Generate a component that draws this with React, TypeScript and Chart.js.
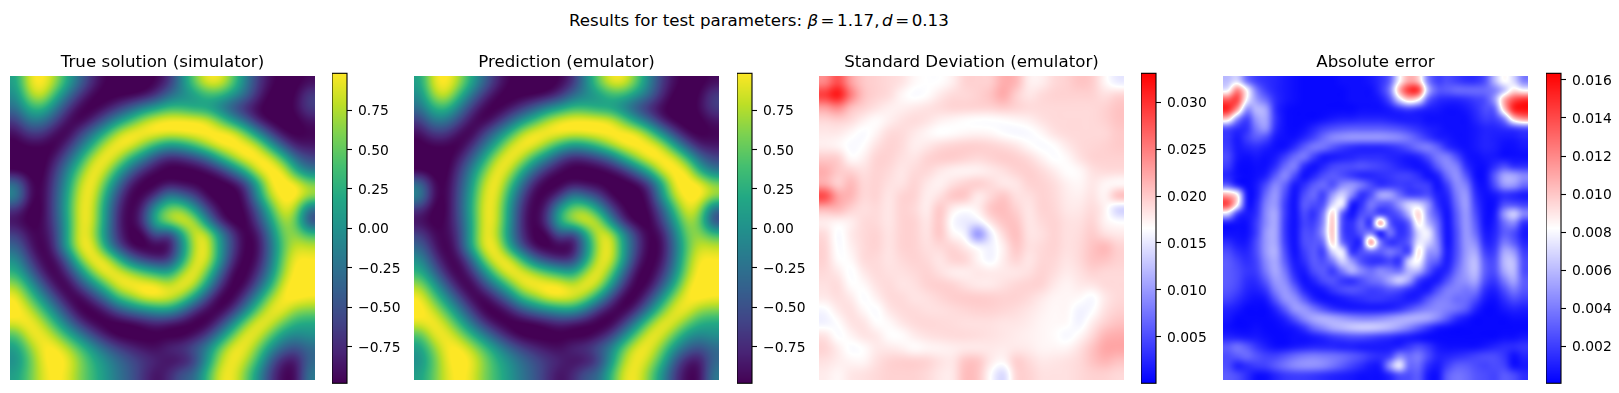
import React, { useEffect, useRef } from "react";
import { Chart, registerables } from "chart.js";

Chart.register(...registerables);

const SUPTITLE_LEAD = "Results for test parameters: ";
const PANEL_TITLES = ["True solution (simulator)", "Prediction (emulator)", "Standard Deviation (emulator)", "Absolute error"];
const VIRIDIS_TICKS = [-0.75, -0.5, -0.25, 0, 0.25, 0.5, 0.75];
const SD_TICKS = [0.005, 0.01, 0.015, 0.02, 0.025, 0.03];
const ERR_TICKS = [0.002, 0.004, 0.006, 0.008, 0.01, 0.012, 0.014, 0.016];

// Field, rows from the top
const TRUE_SOLUTION: number[][] = [
  [.1,.85,.97,.7,.2,-.3,-.7,-.9,-.95,-.97,-.97,-.9,-.7,-.1,.5,.9,.9,.5,-.1,-.6,-.85,-.95,-.95,-.85],
  [-.05,.65,.85,.35,-.2,-.65,-.9,-.97,-.95,-.95,-.9,-.7,-.3,-.1,.05,.3,.3,.05,-.25,-.7,-.95,-.97,-.9,-.55],
  [-.25,.25,.35,-.1,-.6,-.9,-.97,-.85,-.65,-.4,-.1,.1,.3,.25,.1,.05,-.2,-.5,-.75,-.9,-.97,-.97,-.85,-.55],
  [-.6,-.15,-.15,-.5,-.85,-.97,-.75,-.4,0,.35,.7,.9,.97,.97,.95,.87,.5,.05,-.35,-.8,-.95,-.97,-.95,-.8],
  [-.85,-.6,-.6,-.85,-.97,-.6,-.2,.25,.75,.95,.97,.97,.92,.94,.97,.97,.97,.93,.55,-.05,-.6,-.9,-.95,-.9],
  [-.95,-.9,-.9,-.97,-.7,-.25,.25,.8,.97,.9,.6,.25,0,.1,.35,.7,.93,.97,.97,.8,.15,-.45,-.8,-.8],
  [-.97,-.97,-.97,-.8,-.4,.15,.75,.97,.75,.25,-.15,-.6,-.8,-.75,-.6,-.35,.2,.65,.95,.97,.9,.35,-.3,-.55],
  [-.95,-.97,-.97,-.65,-.1,.5,.95,.8,.2,-.35,-.75,-.9,-.97,-.97,-.97,-.9,-.75,-.3,.25,.87,.97,.93,.2,-.2],
  [-.2,-.85,-.95,-.55,.05,.75,.97,.45,-.25,-.8,-.97,-.97,-.85,-.9,-.92,-.97,-.97,-.95,-.65,.15,.93,.97,.95,.6],
  [0,-.85,-.95,-.5,.15,.85,.9,.2,-.55,-.95,-.9,-.65,-.05,-.3,-.55,-.9,-.97,-.97,-.85,0,.75,.97,.97,.7],
  [-.65,-.95,-.95,-.5,.2,.9,.85,.05,-.7,-.97,-.7,.2,.6,.65,.1,-.55,-.9,-.97,-.9,-.45,.35,.9,.7,-.35],
  [-.85,-.95,-.9,-.55,.15,.9,.85,.05,-.75,-.97,-.6,.35,.75,.92,.8,-.05,-.75,-.97,-.97,-.6,.05,.7,.5,-.6],
  [-.55,-.85,-.9,-.65,.15,.93,.75,-.05,-.7,-.95,-.97,-.35,-.8,.05,.85,.85,.05,-.6,-.95,-.85,-.2,.55,.6,.35],
  [-.3,-.75,-.97,-.7,.2,.9,.93,.15,-.55,-.9,-.97,-.97,-.95,-.15,.75,.95,.1,-.55,-.95,-.9,-.3,.45,.8,.75],
  [0,-.55,-.9,-.9,-.4,.55,.97,.9,.35,-.3,-.6,-.75,-.7,.05,.85,.9,.1,-.7,-.97,-.85,-.25,.55,.93,.9],
  [.25,-.25,-.75,-.97,-.7,-.1,.6,.97,.9,.7,.45,.25,.1,.65,.97,.55,-.3,-.9,-.97,-.7,-.1,.65,.97,.97],
  [.65,.15,-.4,-.85,-.97,-.55,-.1,.45,.9,.97,.97,.95,.75,.97,.8,.1,-.65,-.97,-.9,-.45,.2,.85,.98,.97],
  [.92,.5,0,-.5,-.9,-.95,-.65,-.25,.35,.6,.9,.95,.9,.65,.1,-.55,-.95,-.97,-.6,0,.65,.93,.97,.9],
  [.97,.8,.4,-.1,-.6,-.95,-.97,-.8,-.5,-.25,-.1,.05,.1,-.25,-.7,-.9,-.97,-.7,-.15,.5,.9,.9,.6,.55],
  [.85,.95,.75,.3,-.2,-.65,-.9,-.97,-.97,-.95,-.85,-.75,-.85,-.9,-.97,-.97,-.65,-.1,.55,.93,.85,.5,.2,.15],
  [.35,.85,.92,.7,.3,-.1,-.5,-.8,-.95,-.97,-.97,-.95,-.97,-.97,-.85,-.6,-.1,.5,.92,.85,.45,0,-.1,0],
  [.05,.55,.9,.95,.75,.4,.05,-.3,-.55,-.7,-.8,-.85,-.65,-.6,-.4,-.1,.5,.9,.9,.55,0,-.35,-.5,-.3],
  [-.05,.4,.85,.98,.9,.6,.25,0,-.25,-.45,-.6,-.7,-.85,-.85,-.65,0,.7,.93,.75,.3,-.4,-.8,-.85,-.3],
  [.1,.45,.8,.95,.85,.55,.3,.05,-.2,-.4,-.65,-.85,-.7,-.4,-.3,.3,.85,.9,.55,0,-.6,-.9,-.9,-.15],
];
const PREDICTION: number[][] = TRUE_SOLUTION;

// In units of 1e-4
const STD_DEV: number[][] = [
  [240,285,225,200,195,190,185,170,165,165,175,195,195,195,220,215,175,175,190,195,205,200,170,150],
  [300,330,255,205,195,190,170,160,165,180,190,190,195,205,225,195,180,190,195,195,195,195,185,195],
  [225,245,205,195,185,175,175,180,185,190,195,195,195,195,200,195,190,190,190,190,190,190,195,205],
  [190,195,190,175,165,175,185,190,185,175,170,165,162,162,165,170,175,185,190,190,190,190,195,205],
  [180,180,170,160,172,190,190,180,170,162,165,170,172,170,162,158,160,170,185,190,190,190,190,200],
  [175,170,160,165,185,195,190,175,180,190,195,198,198,195,190,182,168,160,165,180,190,192,195,200],
  [200,200,165,175,195,195,185,182,195,200,200,195,190,195,200,198,190,175,162,168,185,195,195,195],
  [220,200,195,185,195,190,180,190,192,180,172,170,172,178,185,195,198,190,178,165,168,185,190,190],
  [215,190,215,190,195,185,182,195,180,172,185,195,200,190,178,180,195,195,188,175,170,182,170,165],
  [295,225,215,190,195,180,195,195,175,185,205,205,175,190,205,185,185,195,190,178,175,185,170,215],
  [210,215,195,185,190,180,195,190,175,205,175,165,175,205,210,195,180,195,192,180,180,190,175,130],
  [175,170,175,190,190,180,195,195,180,205,160,150,155,185,205,205,180,190,195,185,185,195,172,165],
  [190,158,180,190,195,182,195,195,182,205,170,160,80,150,190,210,182,185,195,185,188,200,185,180],
  [195,160,175,190,195,182,195,195,185,190,195,180,165,155,175,205,185,190,195,185,190,205,215,195],
  [195,165,168,190,190,182,190,195,190,180,195,195,172,155,178,195,180,192,192,182,190,205,205,195],
  [190,180,160,180,190,185,185,190,195,185,175,175,182,180,180,180,185,195,188,178,185,195,190,190],
  [185,190,165,168,185,190,182,185,195,198,195,185,178,178,185,192,195,195,180,172,180,182,190,190],
  [180,188,180,160,175,190,190,182,185,192,198,200,200,198,195,195,190,180,172,172,170,158,180,190],
  [160,180,188,170,160,182,190,190,185,185,188,192,195,195,192,188,182,175,170,172,155,162,185,195],
  [155,165,185,185,165,168,182,190,192,190,188,185,185,185,182,182,178,172,170,170,155,178,195,205],
  [185,160,172,185,182,165,165,178,185,188,190,190,188,185,182,178,175,172,168,158,170,190,215,220],
  [195,178,160,165,180,180,175,165,170,172,175,178,178,180,178,180,178,172,172,172,185,205,225,225],
  [185,178,172,170,185,195,198,198,195,185,180,205,205,180,170,200,190,180,182,185,190,205,215,205],
  [178,170,182,185,190,195,195,195,190,180,178,210,205,165,135,195,195,185,185,185,190,195,195,190],
];

// In units of 1e-4
const ABS_ERROR: number[][] = [
  [60,70,35,20,15,12,8,5,3,3,3,3,5,5,5,8,15,30,80,110,100,40,20,25,20,15,15,25,60,85,70,40],
  [75,125,85,40,20,12,8,5,3,3,3,3,3,5,5,5,15,40,110,150,150,60,30,30,35,35,35,35,40,60,90,80],
  [135,145,80,50,35,15,8,5,3,3,3,3,3,5,5,5,8,25,70,100,85,30,15,12,12,15,20,25,50,110,140,150],
  [155,115,45,60,55,15,5,3,3,3,3,3,3,3,5,5,5,8,15,20,15,10,8,5,5,8,15,25,30,100,155,160],
  [100,45,20,50,55,18,5,3,3,3,5,8,10,10,12,12,12,10,8,8,8,5,5,5,5,5,12,20,20,40,100,120],
  [25,15,15,40,50,15,5,3,5,12,20,25,28,30,30,30,30,28,25,20,15,10,8,5,5,5,8,12,12,15,20,25],
  [18,8,20,30,25,8,5,5,12,22,35,45,48,50,50,50,50,48,45,38,28,18,10,8,5,5,8,12,10,8,8,12],
  [20,8,12,15,10,5,5,15,30,40,38,28,20,15,12,12,12,15,20,28,38,42,32,15,8,5,8,12,10,5,5,8],
  [25,8,5,8,5,8,20,35,40,22,8,8,10,12,15,15,15,12,10,8,12,25,40,42,25,8,5,8,8,5,5,5],
  [20,5,3,5,5,15,35,42,15,5,12,22,25,25,28,25,22,18,12,8,5,10,30,45,42,15,5,5,15,25,15,15],
  [12,5,3,5,10,30,45,25,5,12,25,30,25,18,12,12,15,18,22,22,15,5,10,35,48,28,5,5,30,55,55,45],
  [30,10,3,8,25,45,32,8,15,30,35,25,45,50,40,25,15,18,20,18,22,20,5,20,45,42,10,5,25,50,50,35],
  [110,90,8,8,35,50,25,5,25,35,20,50,70,45,15,25,55,55,35,20,20,25,10,12,40,50,15,5,8,15,12,8],
  [145,90,8,12,42,50,20,5,30,25,25,70,80,8,15,40,30,30,50,70,70,50,15,8,35,52,20,5,5,25,25,20],
  [70,20,8,15,45,55,20,5,25,15,40,100,30,5,25,30,20,20,30,60,100,50,25,5,30,50,25,5,8,50,70,45],
  [8,5,5,20,45,55,18,5,22,20,45,105,25,15,35,15,125,30,15,30,90,60,35,5,28,50,30,5,10,35,45,15],
  [5,5,5,20,50,55,18,5,25,25,50,105,25,15,30,40,5,40,15,25,70,80,40,5,25,50,35,8,12,30,25,8],
  [15,8,8,25,50,55,20,5,25,28,35,100,35,15,15,125,40,15,20,30,75,70,45,5,25,50,45,12,15,40,30,12],
  [25,15,12,25,50,58,25,5,20,30,20,70,80,15,25,35,30,40,30,20,95,50,45,8,25,50,55,20,20,55,50,20],
  [30,22,15,22,45,55,30,8,15,30,25,40,70,50,25,15,15,22,15,70,85,40,30,8,28,52,62,28,25,60,62,25],
  [30,25,18,20,40,55,38,12,8,25,30,18,40,60,45,35,45,40,35,60,60,30,10,12,35,52,62,30,25,55,62,25],
  [30,25,15,15,30,50,45,20,5,12,25,28,18,15,25,35,40,55,70,55,20,8,8,25,42,48,55,25,18,40,55,30],
  [28,22,12,10,18,42,50,35,12,5,8,18,25,28,25,20,22,28,25,15,8,8,25,40,42,38,40,15,10,25,40,28],
  [22,15,8,5,8,28,48,48,30,12,5,5,8,12,15,18,18,15,12,8,12,28,40,42,35,35,25,8,5,15,25,20],
  [12,8,3,3,3,12,30,50,50,38,25,15,10,8,8,8,8,10,15,25,35,42,45,42,38,30,12,3,3,8,12,10],
  [8,3,3,3,3,5,12,28,45,55,58,55,50,45,42,42,45,50,55,58,58,55,45,30,15,8,3,3,3,3,5,5],
  [5,3,3,5,3,3,5,8,18,35,45,55,60,65,68,68,65,60,52,42,30,18,8,5,3,3,3,3,3,3,3,3],
  [12,10,8,8,5,3,3,5,5,8,12,18,22,25,25,22,18,15,10,8,5,3,3,3,3,3,3,3,3,5,5,8],
  [30,38,30,18,10,5,5,8,10,12,12,12,10,10,8,8,8,8,10,18,25,18,8,5,5,5,5,8,12,15,15,18],
  [25,30,35,28,22,22,28,35,40,42,40,38,35,30,25,18,15,20,45,35,40,25,12,12,15,18,22,25,25,18,5,12],
  [25,10,15,20,22,30,38,45,48,48,45,38,30,22,15,8,10,50,80,35,35,15,8,20,30,30,25,22,25,22,5,8],
  [30,25,15,5,5,12,18,20,20,18,15,12,10,8,5,5,5,12,25,25,30,8,5,30,38,35,28,25,22,30,25,15],
];

const VIRIDIS: number[][] = [
  [68,1,84],[72,36,117],[65,68,135],[53,95,141],[42,120,142],[33,145,140],[34,168,132],[68,191,112],[122,209,81],[189,223,38],[253,231,37],
];
const BWR: number[][] = [[0,0,255],[255,255,255],[255,0,0]];
const CMAPS: Record<string, number[][]> = { viridis: VIRIDIS, bwr: BWR };

function colorAt(name: string, t: number): number[] {
  const stops = CMAPS[name];
  const c = Math.max(0, Math.min(1, t)) * (stops.length - 1);
  const i = Math.min(stops.length - 2, Math.floor(c));
  const f = c - i;
  return [0, 1, 2].map((k) => stops[i][k] + (stops[i + 1][k] - stops[i][k]) * f);
}

// Mitchell-Netravali family of display kernels
function kernel(x: number, B: number, C: number) {
  const a = Math.abs(x);
  if (a < 1) return ((12 - 9 * B - 6 * C) * a * a * a + (-18 + 12 * B + 6 * C) * a * a + (6 - 2 * B)) / 6;
  if (a < 2) return ((-B - 6 * C) * a * a * a + (6 * B + 30 * C) * a * a + (-12 * B - 48 * C) * a + (8 * B + 24 * C)) / 6;
  return 0;
}

// Pixel display of the cells, like imshow with a smooth interpolation
const heatmapPlugin = {
  id: "heatmapCells",
  beforeDatasetsDraw(chart: any, _args: any, opts: any) {
    if (!opts.cmap) return;
    const pts = chart.data.datasets[0].data as { x: number; y: number; v: number }[];
    const n = Math.round(Math.sqrt(pts.length));
    const grid: number[][] = Array.from({ length: n }, () => new Array(n).fill(0));
    pts.forEach((p) => { grid[Math.floor(p.y)][Math.floor(p.x)] = p.v; });
    const at = (r: number, c: number) => grid[Math.max(0, Math.min(n - 1, r))][Math.max(0, Math.min(n - 1, c))];
    const { left, top, right, bottom } = chart.chartArea;
    const x0 = Math.round(left), y0 = Math.round(top);
    const w = Math.round(right) - x0, h = Math.round(bottom) - y0;
    const img = chart.ctx.createImageData(w, h);
    const off = [-1, 0, 1, 2];
    const mid = (opts.vmin + opts.vmax) / 2;
    for (let py = 0; py < h; py++) {
      const gy = chart.scales.y.getValueForPixel(y0 + py + 0.5) - 0.5;
      const r = Math.floor(gy), ty = gy - r;
      const wy = off.map((d) => kernel(d - ty, opts.B, opts.C));
      for (let px = 0; px < w; px++) {
        const gx = chart.scales.x.getValueForPixel(x0 + px + 0.5) - 0.5;
        const c = Math.floor(gx), tx = gx - c;
        const wx = off.map((d) => kernel(d - tx, opts.B, opts.C));
        let v = 0;
        for (let a = 0; a < 4; a++) for (let b = 0; b < 4; b++) v += wy[a] * wx[b] * at(r + off[a], c + off[b]);
        v = mid + (v - mid) * opts.gain;
        const rgb = colorAt(opts.cmap, (v - opts.vmin) / (opts.vmax - opts.vmin));
        const o = (py * w + px) * 4;
        img.data[o] = rgb[0]; img.data[o + 1] = rgb[1]; img.data[o + 2] = rgb[2]; img.data[o + 3] = 255;
      }
    }
    chart.ctx.putImageData(img, x0, y0);
  },
};

const colorbarPlugin = {
  id: "colorbarFill",
  beforeDatasetsDraw(chart: any, _args: any, opts: any) {
    if (!opts.cmap) return;
    const { left, top, right, bottom } = chart.chartArea;
    const ctx = chart.ctx;
    const y = chart.scales.y;
    for (let py = Math.round(top); py < Math.round(bottom); py++) {
      const rgb = colorAt(opts.cmap, (y.getValueForPixel(py + 0.5) - y.min) / (y.max - y.min));
      ctx.fillStyle = `rgb(${rgb[0]},${rgb[1]},${rgb[2]})`;
      ctx.fillRect(left, py, right - left, 1);
    }
    ctx.strokeStyle = "#000";
    ctx.lineWidth = 1.1;
    ctx.strokeRect(left, top, right - left, bottom - top);
  },
};

const FONT = '"DejaVu Sans"';

function toPoints(rows: number[][], unit: number) {
  const pts: { x: number; y: number; v: number }[] = [];
  rows.forEach((row, j) => row.forEach((v, i) => pts.push({ x: i + 0.5, y: j + 0.5, v: v * unit })));
  return pts;
}

function Heatmap({ rows, unit, title, cmap, vmin, vmax, left, B, C, gain }: any) {
  const ref = useRef<HTMLCanvasElement>(null);
  useEffect(() => {
    const n = rows.length;
    const chart = new Chart(ref.current!, {
      type: "scatter",
      data: { datasets: [{ data: toPoints(rows, unit), pointRadius: 0, pointHoverRadius: 0 }] },
      plugins: [heatmapPlugin],
      options: {
        animation: false, responsive: false, devicePixelRatio: 1, events: [],
        layout: { padding: 0 },
        scales: {
          x: { type: "linear", min: 0, max: n, display: false },
          y: { type: "linear", min: 0, max: n, reverse: true, display: false },
        },
        plugins: {
          legend: { display: false }, tooltip: { enabled: false },
          title: { display: true, text: title, color: "#000", padding: { top: 3, bottom: 3 }, font: { family: FONT, size: 16.67, weight: "normal", lineHeight: 1.2 } },
          heatmapCells: { cmap, vmin, vmax, B, C, gain },
        },
      } as any,
    });
    return () => chart.destroy();
  }, []);
  return <canvas ref={ref} width={305} height={330} style={{ position: "absolute", left, top: 50, display: "block" }} />;
}

function Colorbar({ ticks, decimals, cmap, vmin, vmax, left }: any) {
  const ref = useRef<HTMLCanvasElement>(null);
  useEffect(() => {
    const chart = new Chart(ref.current!, {
      type: "scatter",
      data: { datasets: [{ data: [], pointRadius: 0 }] },
      plugins: [colorbarPlugin],
      options: {
        animation: false, responsive: false, devicePixelRatio: 1, events: [],
        layout: { padding: { top: 13.3, bottom: 9.7, left: 0, right: 0 } },
        scales: {
          x: { type: "linear", min: 0, max: 1, display: false },
          y: {
            type: "linear", position: "right", min: vmin, max: vmax,
            afterBuildTicks: (s: any) => { s.ticks = ticks.map((value: number) => ({ value })); },
            afterFit: (s: any) => { s.width = 58; s.paddingTop = 0; s.paddingBottom = 0; },
            border: { display: false },
            grid: { display: true, drawOnChartArea: false, drawTicks: true, tickLength: 5, tickWidth: 1.1, tickColor: "#000" },
            ticks: {
              autoSkip: false, padding: 6, labelOffset: 1.5, color: "#000", font: { family: FONT, size: 13.89 },
              callback: (v: number) => (v < 0 ? "\u2212" : "") + Math.abs(v).toFixed(decimals),
            },
          },
        },
        plugins: { legend: { display: false }, tooltip: { enabled: false }, title: { display: false }, colorbarFill: { cmap } },
      } as any,
    });
    return () => chart.destroy();
  }, []);
  return <canvas ref={ref} width={73} height={333} style={{ position: "absolute", left, top: 60, display: "block" }} />;
}

export default function App() {
  return (
    <div style={{ position: "absolute", left: 0, top: 0, width: 1619, height: 393, overflow: "hidden", background: "#fff" }}>
      <div style={{ position: "absolute", left: 569, top: 11, font: `16.67px ${FONT}`, lineHeight: "20px", color: "#000", whiteSpace: "pre" }}>
        {SUPTITLE_LEAD}<span style={{ wordSpacing: "-2.75px" }}><i>β</i> = 1.17, <i>d</i> = 0.13</span>
      </div>
      <Heatmap rows={TRUE_SOLUTION} unit={1} title={PANEL_TITLES[0]} cmap="viridis" vmin={-0.982} vmax={0.983} left={10} B={1} C={0} gain={1.1} />
      <Colorbar ticks={VIRIDIS_TICKS} decimals={2} cmap="viridis" vmin={-0.982} vmax={0.983} left={332} />
      <Heatmap rows={PREDICTION} unit={1} title={PANEL_TITLES[1]} cmap="viridis" vmin={-0.982} vmax={0.983} left={414} B={1} C={0} gain={1.1} />
      <Colorbar ticks={VIRIDIS_TICKS} decimals={2} cmap="viridis" vmin={-0.982} vmax={0.983} left={737} />
      <Heatmap rows={STD_DEV} unit={1e-4} title={PANEL_TITLES[2]} cmap="bwr" vmin={0.00003} vmax={0.0331} left={819} B={0.5} C={0.25} gain={1} />
      <Colorbar ticks={SD_TICKS} decimals={3} cmap="bwr" vmin={0.00003} vmax={0.0331} left={1141} />
      <Heatmap rows={ABS_ERROR} unit={1e-4} title={PANEL_TITLES[3]} cmap="bwr" vmin={0.00005} vmax={0.01635} left={1223} B={0.33} C={0.33} gain={1} />
      <Colorbar ticks={ERR_TICKS} decimals={3} cmap="bwr" vmin={0.00005} vmax={0.01635} left={1546} />
    </div>
  );
}
